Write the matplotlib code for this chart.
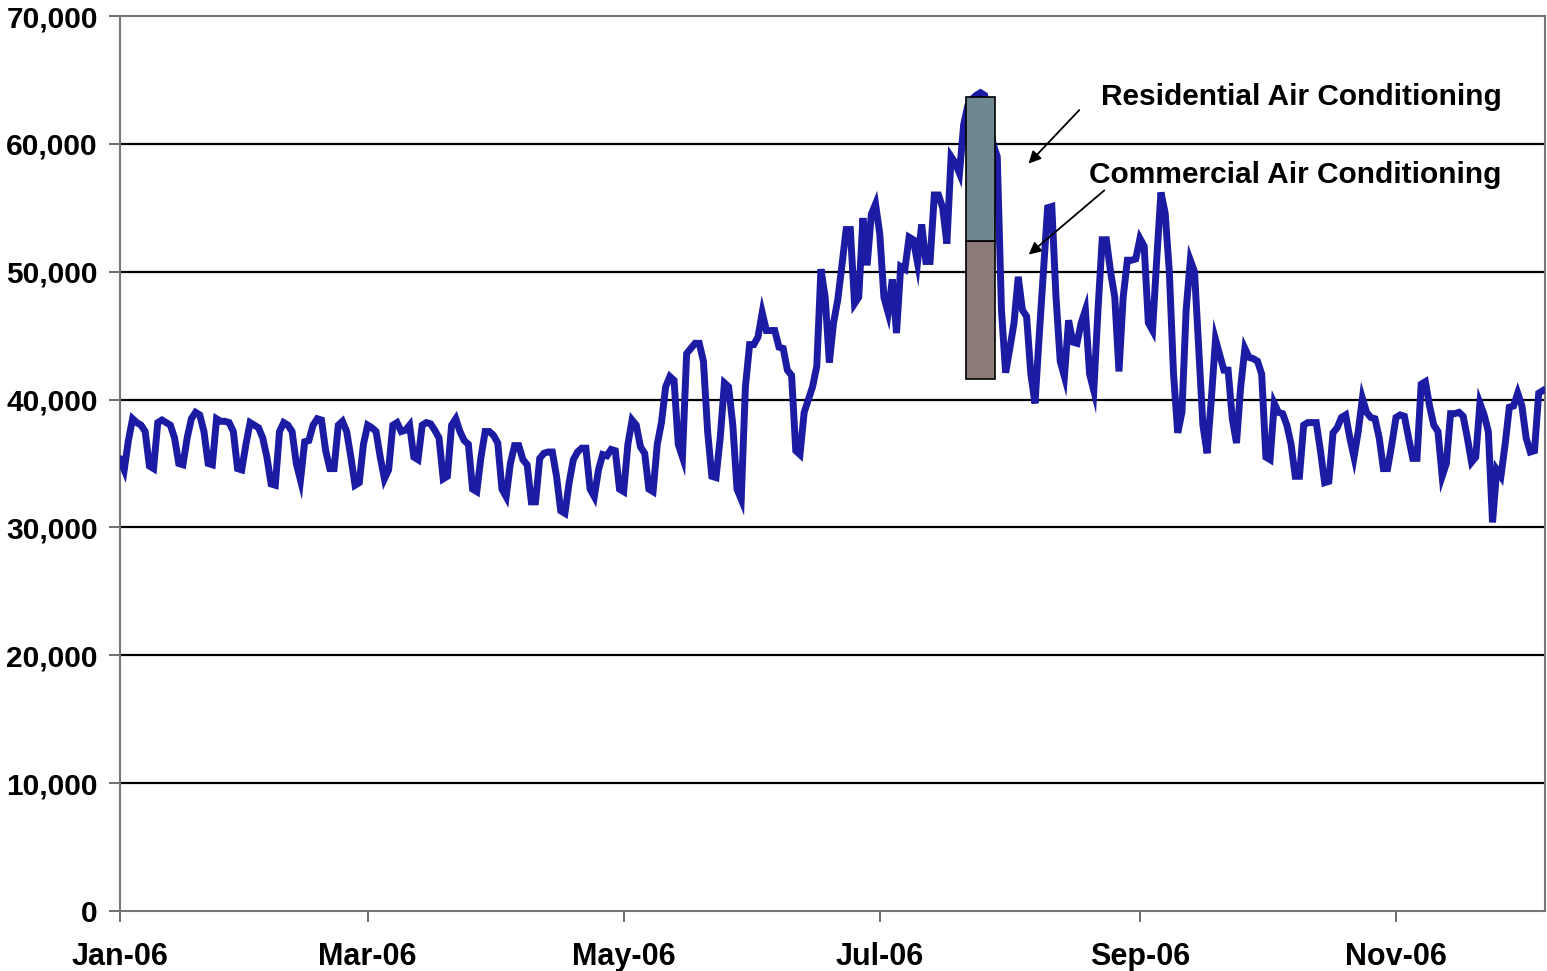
import matplotlib
matplotlib.use("Agg")
import matplotlib.pyplot as plt
import matplotlib.dates as mdates
import numpy as np

plt.rcParams.update({
    'font.family': ['Liberation Sans', 'DejaVu Sans'],
    'font.weight': 'bold',
    'font.size': 20,
})

# daily load, thousands, starting 1 Jan 2006
load_k = [
    35.3, 34.5, 36.8, 38.5, 38.2, 38.0, 37.5, 34.8, 34.6, 38.2,
    38.4, 38.2, 38.0, 37.0, 35.0, 34.9, 37.0, 38.5, 39.0, 38.8,
    37.5, 35.0, 34.9, 38.5, 38.3, 38.3, 38.2, 37.5, 34.6, 34.5,
    36.5, 38.2, 38.0, 37.8, 37.0, 35.5, 33.4, 33.3, 37.5, 38.2,
    38.0, 37.5, 35.0, 33.7, 36.7, 36.8, 38.0, 38.5, 38.4, 36.0,
    34.6, 34.6, 38.0, 38.3, 37.5, 35.5, 33.3, 33.5, 36.5, 38.0,
    37.8, 37.5, 35.5, 33.8, 34.5, 38.0, 38.2, 37.5, 37.6, 38.0,
    35.5, 35.3, 38.0, 38.2, 38.1, 37.6, 37.0, 33.8, 34.0, 38.0,
    38.5, 37.5, 36.8, 36.5, 33.0, 32.8, 35.5, 37.5, 37.5, 37.2,
    36.6, 33.0, 32.4, 35.0, 36.4, 36.4, 35.3, 34.9, 32.0, 32.0,
    35.4, 35.8, 35.9, 35.9, 34.0, 31.3, 31.1, 33.5, 35.3, 35.9,
    36.2, 36.2, 33.0, 32.4, 34.5, 35.7, 35.6, 36.1, 36.0, 33.0,
    32.8, 36.5, 38.4, 38.0, 36.3, 35.8, 33.0, 32.8, 36.5, 38.2,
    41.0, 41.8, 41.5, 36.5, 35.5, 43.6, 44.0, 44.4, 44.4, 43.0,
    37.5, 34.0, 33.9, 37.0, 41.3, 41.0, 38.0, 33.0, 32.2, 41.0,
    44.3, 44.3, 44.9, 46.8, 45.4, 45.4, 45.4, 44.1, 44.0, 42.3,
    41.9, 36.0, 35.7, 39.0, 40.0, 41.0, 42.6, 50.2, 48.0, 42.9,
    46.0, 47.8, 50.5, 53.3, 53.3, 47.5, 48.0, 54.2, 50.5, 54.5,
    55.3, 53.0, 48.0, 46.8, 49.4, 45.2, 50.4, 50.2, 52.7, 52.5,
    50.7, 53.7, 50.8, 50.8, 56.0, 56.0, 55.0, 52.2, 59.0, 58.5,
    57.7, 61.5, 63.0, 63.5, 63.8, 64.0, 63.8, 62.0, 60.0, 59.0,
    47.0, 42.1, 44.0, 46.0, 49.6, 47.0, 46.5, 42.0, 39.7, 45.0,
    50.0, 55.0, 55.1, 48.0, 43.0, 41.8, 46.2, 44.5, 44.4, 46.0,
    47.0, 42.0, 40.7, 47.0, 52.5, 52.5, 50.0, 48.0, 42.2, 48.0,
    50.9, 50.9, 51.0, 52.6, 52.0, 46.0, 45.4, 51.0, 56.2, 54.6,
    50.0, 42.0, 37.4, 39.0, 47.0, 50.9, 50.0, 44.0, 38.0, 35.8,
    40.0, 44.7, 43.5, 42.3, 42.3, 38.5, 36.6, 41.0, 44.0, 43.3,
    43.2, 43.0, 42.0, 35.5, 35.3, 39.7, 39.0, 38.9, 38.0, 36.5,
    34.0, 34.0, 38.0, 38.2, 38.2, 38.2, 36.0, 33.5, 33.6, 37.4,
    37.8, 38.6, 38.8, 37.0, 35.5, 37.5, 40.1, 39.0, 38.6, 38.5,
    37.0, 34.6, 34.6, 36.5, 38.6, 38.8, 38.7, 37.0, 35.4, 35.4,
    41.2, 41.4, 39.5, 38.0, 37.5, 34.0, 35.0, 38.9, 38.9, 39.0,
    38.7, 37.0, 35.1, 35.5, 39.7, 38.8, 37.5, 30.4, 34.5, 34.0,
    36.5, 39.4, 39.5, 40.5, 39.5, 37.0, 35.9, 36.0, 40.5, 40.7,
]
load = np.array(load_k) * 1000
start = np.datetime64('2006-01-01')
dates = start + np.arange(len(load)).astype('timedelta64[D]')

# peak-day breakdown bar
bar_start = np.datetime64('2006-07-21T16')
bar_end = np.datetime64('2006-07-28T14')
bar_base = 41600
bar_commercial_top = 52400
bar_residential_top = 63700

y_ticks = [0, 10000, 20000, 30000, 40000, 50000, 60000, 70000]

fig = plt.figure(figsize=(15.47, 9.71), dpi=100)
ax = fig.add_axes([120/1547, 1 - 911/971, 1425/1547, 895/971])

for yv in y_ticks[1:-1]:
    ax.axhline(yv, color='black', lw=1.6, zorder=1)

ax.plot(dates, load, color='#1b1ba3', lw=5.0, solid_joinstyle='miter', zorder=3)

x0 = mdates.date2num(bar_start)
x1 = mdates.date2num(bar_end)
ax.bar(x0, bar_commercial_top - bar_base, width=x1 - x0, bottom=bar_base,
       align='edge', color='#8c7b78', edgecolor='black', lw=1.2, zorder=4)
ax.bar(x0, bar_residential_top - bar_commercial_top, width=x1 - x0,
       bottom=bar_commercial_top, align='edge', color='#6f8790',
       edgecolor='black', lw=1.2, zorder=4)

ax.text(mdates.date2num(np.datetime64('2006-08-22T18')), 63700,
        'Residential Air Conditioning', fontsize=21.5, fontweight='bold', va='center')
ax.text(mdates.date2num(np.datetime64('2006-08-19T22')), 57600,
        'Commercial Air Conditioning', fontsize=21.5, fontweight='bold', va='center')
ax.annotate('', xy=(mdates.date2num(np.datetime64('2006-08-05')), 58300),
            xytext=(mdates.date2num(np.datetime64('2006-08-18')), 62800),
            arrowprops=dict(arrowstyle='-|>', color='black', lw=1.3, mutation_scale=18))
ax.annotate('', xy=(mdates.date2num(np.datetime64('2006-08-05')), 51200),
            xytext=(mdates.date2num(np.datetime64('2006-08-24')), 56500),
            arrowprops=dict(arrowstyle='-|>', color='black', lw=1.3, mutation_scale=18))

ax.set_ylim(0, 70000)
ax.set_yticks(y_ticks)
ax.set_yticklabels([f'{v:,}' for v in y_ticks])
ax.set_xlim(mdates.date2num(start), mdates.date2num(start) + 339.5)
ax.xaxis.set_major_locator(mdates.MonthLocator(bymonth=[1, 3, 5, 7, 9, 11]))
ax.xaxis.set_major_formatter(mdates.DateFormatter('%b-%y'))
ax.tick_params(axis='both', direction='out', length=8, width=1.2, colors='#555555',
               labelcolor='black')
ax.tick_params(axis='y', pad=8, labelsize=21.5)
ax.tick_params(axis='x', pad=14, labelsize=22)
for lab in ax.get_xticklabels() + ax.get_yticklabels():
    lab.set_fontweight('bold')

for side in ['left', 'bottom', 'top', 'right']:
    ax.spines[side].set_color('#777777')
    ax.spines[side].set_linewidth(1.5)

fig.savefig('out.png', dpi=100, facecolor='white')
